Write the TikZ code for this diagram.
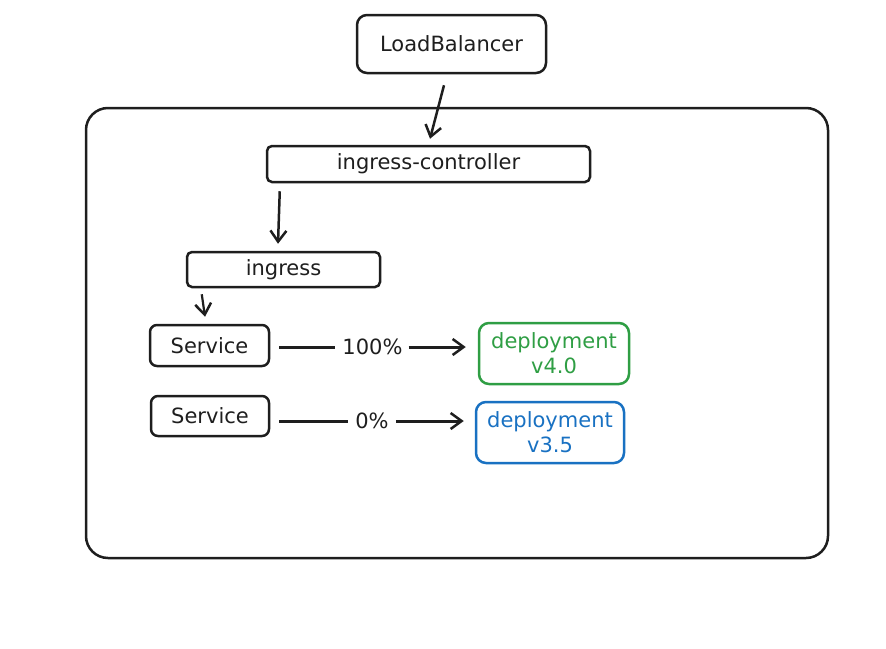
\documentclass[tikz,border=0pt]{standalone}
\usepackage{fontspec}
\setmainfont{DejaVu Sans}
\usetikzlibrary{arrows.meta}
\definecolor{exgreen}{HTML}{2F9E44}
\definecolor{exblue}{HTML}{1971C2}
\definecolor{exink}{HTML}{1E1E1E}
\tikzset{
  box/.style={draw=exink, line width=2.5pt, rounded corners=7pt, inner sep=0pt,
    font=\fontsize{21}{25}\selectfont, text=exink, align=center},
  conn/.style={draw=exink, line width=2.5pt, -{Straight Barb[length=11pt,width=16pt,line width=2.5pt]}},
  plain/.style={draw=exink, line width=3pt},
  pct/.style={inner sep=0pt, font=\fontsize{21}{24}\selectfont, text=exink},
}
\begin{document}
\begin{tikzpicture}[x=1pt,y=-1pt]
\useasboundingbox (0,0) rectangle (886,648);
\node[box, rounded corners=22pt, minimum width=742pt, minimum height=450pt] (cluster) at (457,333) {};
\node[box, rounded corners=10pt, minimum width=189pt, minimum height=58pt] (lb) at (451.5,44) {LoadBalancer};
\node[box, rounded corners=5pt, minimum width=323pt, minimum height=36pt] (ic) at (428.5,164) {ingress-controller};
\node[box, rounded corners=5pt, minimum width=193pt, minimum height=35pt] (ing) at (283.5,269.5) {ingress};
\node[box, minimum width=119pt, minimum height=41pt] (s1) at (209.5,345.5) {Service};
\node[box, minimum width=118pt, minimum height=40pt] (s2) at (210,416) {Service};
\node[box, draw=exgreen, text=exgreen, rounded corners=10pt, minimum width=150pt, minimum height=61pt] (d1) at (554,353.5) {deployment\\v4.0};
\node[box, draw=exblue, text=exblue, rounded corners=10pt, minimum width=148pt, minimum height=61pt] (d2) at (550,432.5) {deployment\\v3.5};
\node[pct] (p1) at (372.5,347) {100\%};
\node[pct] (p2) at (372,421) {0\%};

\draw[conn] ([xshift=-7.5pt,yshift=-11pt]lb.south) -- ([xshift=1.5pt,yshift=6pt]ic.north);
\draw[conn] ([xshift=14pt,yshift=-8pt]ic.south west) -- ([xshift=-5.5pt,yshift=7pt]ing.north);
\draw[conn, line width=2.2pt] ([xshift=16pt,yshift=-6pt]ing.south west) -- ([xshift=-4.5pt,yshift=7pt]s1.north);

\draw[plain] ([xshift=9pt]s1.east |- p1.west) -- ([xshift=-7pt]p1.west);
\draw[conn, line width=3pt] ([xshift=6pt]p1.east) -- ([xshift=-12pt]d1.west |- p1.east);
\draw[plain] ([xshift=9pt]s2.east |- p2.west) -- ([xshift=-7pt]p2.west);
\draw[conn, line width=3pt] ([xshift=7pt]p2.east) -- ([xshift=-11pt]d2.west |- p2.east);
\end{tikzpicture}
\end{document}
